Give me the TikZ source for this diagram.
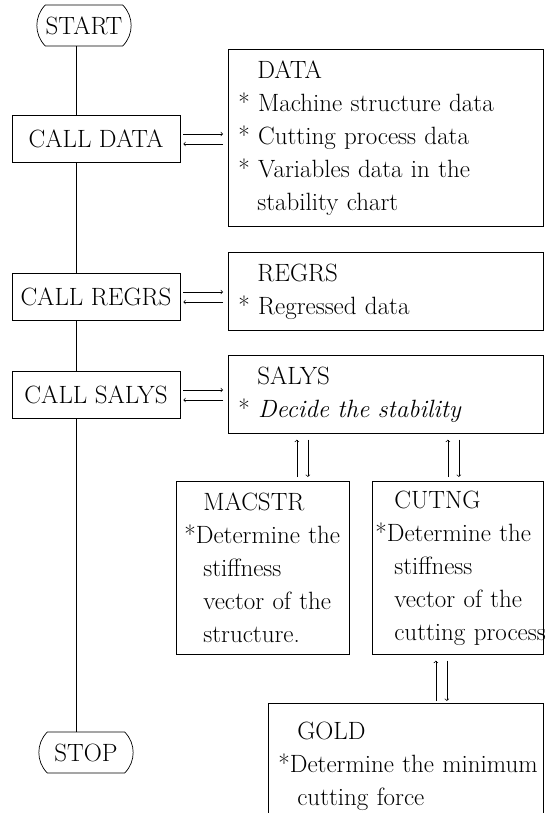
\documentclass[tikz,border=0pt]{standalone}
\usetikzlibrary{shapes.misc, arrows}

\newcommand{\ind}{\hphantom{*}\hspace*{0.3em}}
\hyphenpenalty=10000

\tikzstyle{txt} = [font=\fontsize{25}{33}\selectfont]
\tikzstyle{startstop} = [txt, rounded rectangle, rounded rectangle arc length=90, minimum width=101pt, minimum height=41pt, draw=black]
\tikzstyle{call} = [txt, rectangle, minimum width=168pt, minimum height=47pt, draw=black]
\tikzstyle{module} = [txt, rectangle, anchor=north west, align=left, inner xsep=10pt, draw=black]
\tikzstyle{arrow} = [->,>=to]

\begin{document}
\begin{tikzpicture}[x=1pt, y=-1pt, line width=0.7pt]

    \useasboundingbox (0,0) rectangle (553,813);

    \node (start) [startstop] at (84,25.5) {START};
    \node (calldata) [call] at (96,139) {CALL DATA};
    \node (callregrs) [call] at (96,297) {CALL REGRS};
    \node (callsalys) [call] at (96,395) {CALL SALYS};
    \node (stop) [startstop] at (86,752.5) {STOP};

    \node (data) [module, text width=295pt, minimum height=177pt] at (228,49)
        {\ind DATA\\{*} Machine~structure~data\\{*} Cutting~process~data\\{*} Variables~data~in~the\\\ind stability~chart};
    \node (regrs) [module, text width=295pt, minimum height=78pt] at (228,252)
        {\ind REGRS\\{*} Regressed~data};
    \node (salys) [module, text width=295pt, minimum height=78pt] at (228,355)
        {\ind SALYS\\{*} \textit{Decide~the~stability}};
    \node (macstr) [module, text width=157pt, inner xsep=8pt, minimum height=173pt] at (176,481)
        {\ind MACSTR\\{*}Determine~the\\\ind stiffness\\\ind vector~of~the\\\ind structure.};
    \node (cutng) [module, text width=165pt, inner xsep=3pt, minimum height=173pt] at (372,481)
        {\ind CUTNG\\{*}Determine~the\\\ind stiffness\\\ind vector~of~the\\\ind cutting~process};
    \node (gold) [module, draw=none, text width=255pt, minimum height=126pt] at (268,703)
        {\ind GOLD\\{*}Determine~the~minimum\\\ind cutting~force};

    % main line
    \coordinate (spine) at (76,0);
    \draw (start.south -| spine) -- (calldata.north -| spine);
    \draw (calldata.south -| spine) -- (callregrs.north -| spine);
    \draw (callregrs.south -| spine) -- (callsalys.north -| spine);
    \draw (callsalys.south -| spine) -- (stop.north -| spine);

    % calls
    \draw [arrow, shorten <=3pt, shorten >=5pt] ([yshift=5pt]calldata.east) -- ([yshift=5pt]calldata.east -| data.west);
    \draw [arrow, shorten <=5pt, shorten >=3pt] ([yshift=-5pt]calldata.east -| data.west) -- ([yshift=-5pt]calldata.east);
    \draw [arrow, shorten <=3pt, shorten >=5pt] ([yshift=5pt]callregrs.east) -- ([yshift=5pt]callregrs.east -| regrs.west);
    \draw [arrow, shorten <=5pt, shorten >=3pt] ([yshift=-5pt]callregrs.east -| regrs.west) -- ([yshift=-5pt]callregrs.east);
    \draw [arrow, shorten <=3pt, shorten >=5pt] ([yshift=5pt]callsalys.east) -- ([yshift=5pt]callsalys.east -| salys.west);
    \draw [arrow, shorten <=5pt, shorten >=3pt] ([yshift=-5pt]callsalys.east -| salys.west) -- ([yshift=-5pt]callsalys.east);

    % subroutines
    \draw [arrow, shorten <=4pt, shorten >=6pt] ([xshift=34pt]macstr.north) -- ([xshift=34pt]macstr.north |- salys.south);
    \draw [arrow, shorten <=6pt, shorten >=4pt] ([xshift=45pt]macstr.north |- salys.south) -- ([xshift=45pt]macstr.north);
    \draw [arrow, shorten <=4pt, shorten >=6pt] ([xshift=-10pt]cutng.north) -- ([xshift=-10pt]cutng.north |- salys.south);
    \draw [arrow, shorten <=6pt, shorten >=4pt] ([xshift=1pt]cutng.north |- salys.south) -- ([xshift=1pt]cutng.north);
    \draw [arrow, shorten <=2pt, shorten >=6pt] ([xshift=-22pt]cutng.south |- gold.north) -- ([xshift=-22pt]cutng.south);
    \draw [arrow, shorten <=6pt, shorten >=2pt] ([xshift=-11pt]cutng.south) -- ([xshift=-11pt]cutng.south |- gold.north);

    % open box
    \coordinate (bottom) at (0,813);
    \draw (gold.north west |- bottom) -- (gold.north west) -- (gold.north east) -- (gold.north east |- bottom);

\end{tikzpicture}
\end{document}
